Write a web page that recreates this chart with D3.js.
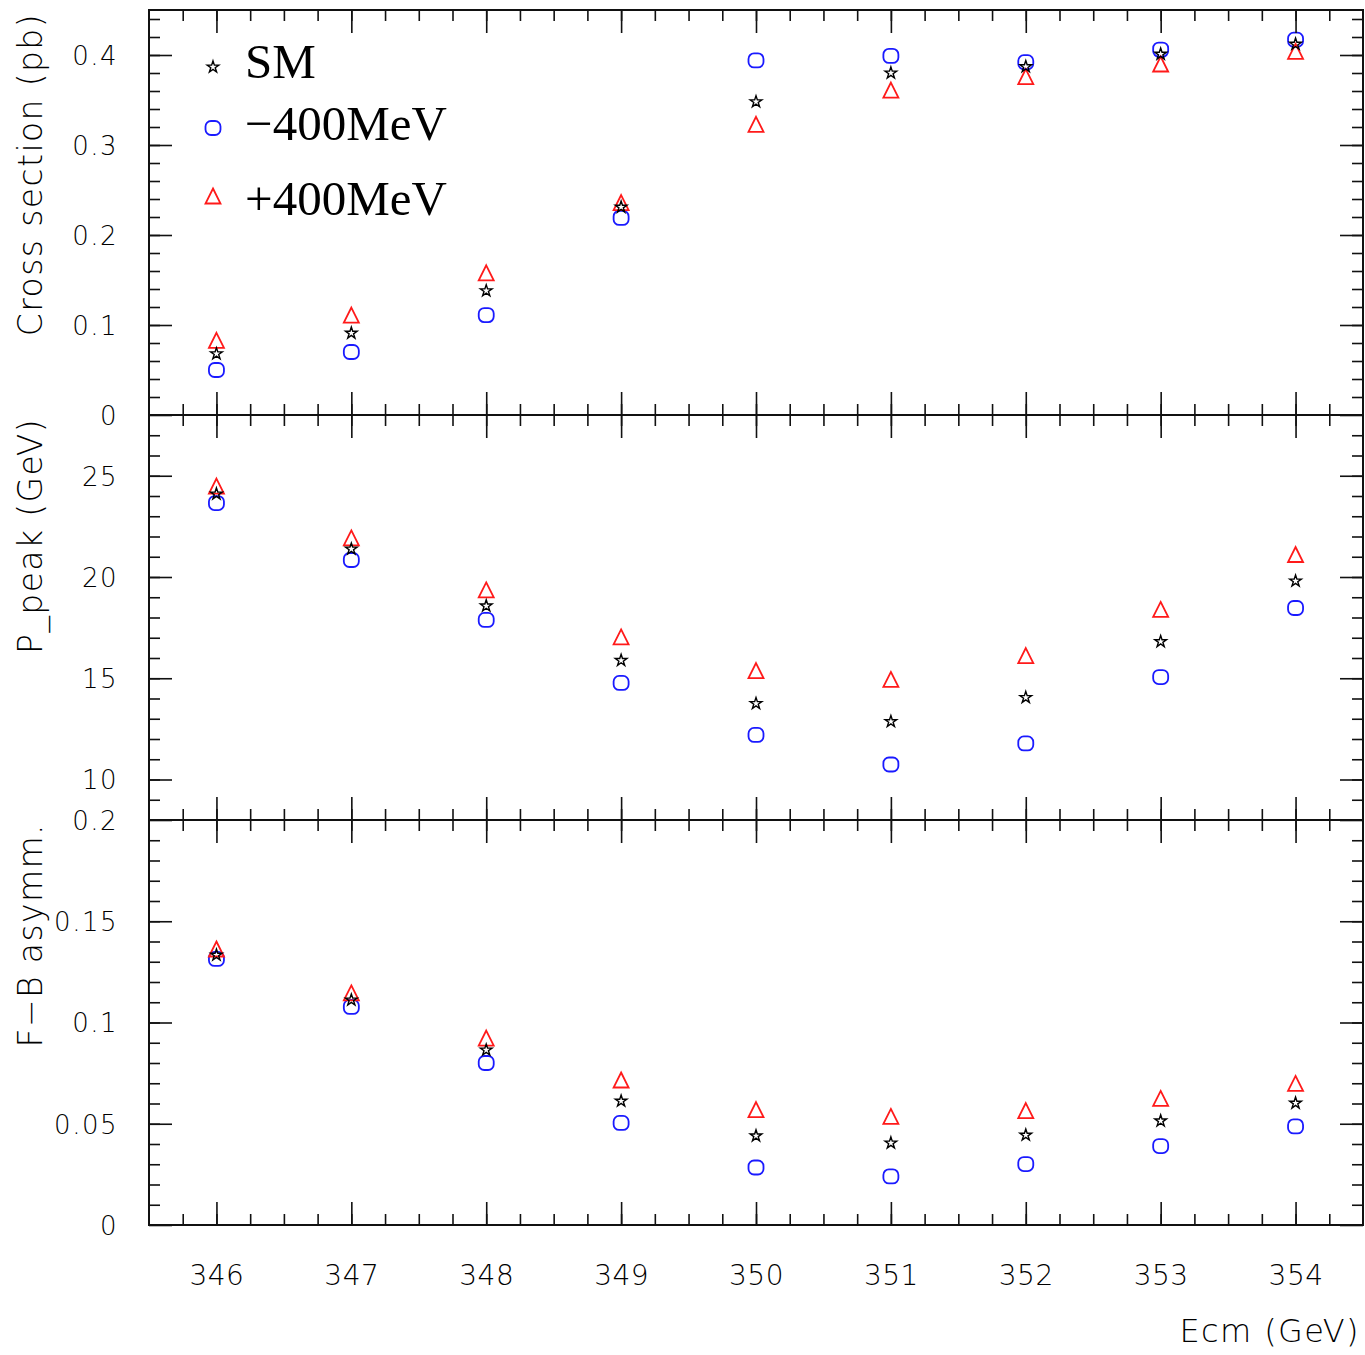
<!DOCTYPE html>
<html>
<head>
<meta charset="utf-8">
<script src="https://cdn.jsdelivr.net/npm/d3@7"></script>
<style>
  body { margin: 0; background: #fff; }
  svg { display: block; }
  .tick text { font-family: "DejaVu Sans", sans-serif; font-weight: 200; fill: #000; letter-spacing: 1.5px; }
  .title { font-family: "DejaVu Sans", sans-serif; font-weight: 200; fill: #000; letter-spacing: 1.4px; }
  .legend text { font-family: "Liberation Serif", "Times New Roman", serif; fill: #000; }
</style>
</head>
<body>
<svg></svg>
<script>
// beam energies (GeV)
const energies = [346, 347, 348, 349, 350, 351, 352, 353, 354];

// cross section (pb)
const xsecSM    = [0.068, 0.091, 0.138, 0.231, 0.348, 0.380, 0.387, 0.401, 0.412];
const xsecMinus = [0.050, 0.070, 0.111, 0.219, 0.394, 0.399, 0.392, 0.406, 0.417];
const xsecPlus  = [0.083, 0.111, 0.158, 0.236, 0.323, 0.361, 0.376, 0.390, 0.404];

// peak momentum (GeV)
const ppeakSM    = [24.10, 21.38, 18.57, 15.88, 13.75, 12.86, 14.05, 16.81, 19.80];
const ppeakMinus = [23.65, 20.84, 17.88, 14.77, 12.20, 10.74, 11.78, 15.06, 18.47];
const ppeakPlus  = [24.49, 21.93, 19.36, 17.04, 15.38, 14.94, 16.12, 18.40, 21.11];

// forward-backward asymmetry
const fbSM    = [0.1333, 0.1111, 0.0864, 0.0612, 0.0440, 0.0405, 0.0444, 0.0514, 0.0602];
const fbMinus = [0.1314, 0.1077, 0.0800, 0.0504, 0.0284, 0.0240, 0.0301, 0.0390, 0.0487];
const fbPlus  = [0.1363, 0.1146, 0.0923, 0.0716, 0.0570, 0.0536, 0.0565, 0.0625, 0.0699];

// tick labels
const xTicks = [346, 347, 348, 349, 350, 351, 352, 353, 354];
const xsecTicks = [0, 0.1, 0.2, 0.3, 0.4];
const ppeakTicks = [10, 15, 20, 25];
const fbTicks = [0, 0.05, 0.1, 0.15, 0.2];

const seriesNames = ['SM', '\u2212400MeV', '+400MeV'];

const width = 1365,
      height = 1355,
      frameL = 149,
      frameR = 1363,
      frameT = 10,
      panelH = 405,
      majorLen = 23,
      minorLen = 11,
      ink = '#111';

const $svg = d3.select('svg')
  .attr('width', width)
  .attr('height', height);

const x = d3.scaleLinear()
  .domain([345.5, 354.5])
  .range([frameL, frameR]);

const xMinor = d3.range(345.75, 354.5, 0.25);

const panels = [
  { title: 'Cross section (pb)', domain: [0, 0.45], ticks: xsecTicks,
    minor: d3.range(0.02, 0.45, 0.02), series: [xsecSM, xsecMinus, xsecPlus] },
  { title: 'P_peak (GeV)', domain: [8, 28], ticks: ppeakTicks,
    minor: d3.range(9, 28, 1), series: [ppeakSM, ppeakMinus, ppeakPlus] },
  { title: 'F\u2212B asymm.', domain: [0, 0.2], ticks: fbTicks,
    minor: d3.range(0.01, 0.2, 0.01), series: [fbSM, fbMinus, fbPlus] }
];

const markers = [
  { name: 'star', color: '#000' },
  { name: 'circle', color: '#1a1aff' },
  { name: 'triangle', color: '#ff1a1a' }
];

function drawMarker(g, type, color) {
  if (type === 'circle') {
    g.append('rect')
      .attr('x', -7.5).attr('y', -7)
      .attr('width', 15).attr('height', 14)
      .attr('rx', 5.5)
      .attr('fill', 'none')
      .attr('stroke', color)
      .attr('stroke-width', 1.8);
  } else if (type === 'triangle') {
    g.append('path')
      .attr('d', 'M0,-7.5L7.5,7.5L-7.5,7.5Z')
      .attr('fill', 'none')
      .attr('stroke', color)
      .attr('stroke-width', 1.8);
  } else {
    g.append('path')
      .attr('d', d3.symbol(d3.symbolStar, 42)())
      .attr('fill', 'none')
      .attr('stroke', color)
      .attr('stroke-width', 1.4);
  }
}

function styleAxis(sel) {
  sel.select('.domain').remove();
  sel.selectAll('.tick line')
    .attr('stroke', ink)
    .attr('stroke-width', 1.6);
}

panels.forEach((p, i) => {
  const y0 = frameT + i * panelH,
        y1 = y0 + panelH;

  const y = d3.scaleLinear()
    .domain(p.domain)
    .range([y1, y0]);

  // y ticks, left side with labels
  $svg.append('g')
    .attr('transform', `translate(${frameL},0)`)
    .call(d3.axisLeft(y).tickValues(p.minor).tickSize(-minorLen).tickFormat(''))
    .call(styleAxis);

  $svg.append('g')
    .attr('transform', `translate(${frameL},0)`)
    .call(d3.axisLeft(y).tickValues(p.ticks).tickSize(-majorLen).tickPadding(31)
      .tickFormat((d) => String(d)))
    .call(styleAxis)
    .selectAll('text')
      .attr('font-size', 26)
      .attr('dy', '0.36em');

  // y ticks, right side
  $svg.append('g')
    .attr('transform', `translate(${frameR},0)`)
    .call(d3.axisRight(y).tickValues(p.minor).tickSize(-minorLen).tickFormat(''))
    .call(styleAxis);

  $svg.append('g')
    .attr('transform', `translate(${frameR},0)`)
    .call(d3.axisRight(y).tickValues(p.ticks).tickSize(-majorLen).tickFormat(''))
    .call(styleAxis);

  // axis title, reading upward, aligned to panel top
  $svg.append('text')
    .attr('class', 'title')
    .attr('transform', `translate(42,${y0 + 3}) rotate(-90)`)
    .attr('text-anchor', 'end')
    .attr('font-size', 33)
    .text(p.title);

  // markers: circles, triangles, then stars on top
  [1, 2, 0].forEach((s) => {
    const m = markers[s];
    const pts = $svg.append('g')
      .selectAll('g')
      .data(energies.map((e, k) => ({ e: e, v: p.series[s][k] })))
      .enter()
      .append('g')
        .attr('transform', (d) => `translate(${x(d.e)},${y(d.v)})`);
    pts.each(function () { drawMarker(d3.select(this), m.name, m.color); });
  });
});

// x ticks: top border (down), separators (both ways), bottom border (up)
const frameB = frameT + 3 * panelH;

function xTickRow(yPos, axisFn, size) {
  $svg.append('g')
    .attr('transform', `translate(0,${yPos})`)
    .call(axisFn(x).tickValues(xMinor).tickSize(size[0]).tickFormat(''))
    .call(styleAxis);
  $svg.append('g')
    .attr('transform', `translate(0,${yPos})`)
    .call(axisFn(x).tickValues(xTicks).tickSize(size[1]).tickFormat(''))
    .call(styleAxis);
}

xTickRow(frameT, d3.axisTop, [-minorLen, -majorLen]);
[frameT + panelH, frameT + 2 * panelH].forEach((yy) => {
  xTickRow(yy, d3.axisTop, [minorLen, majorLen]);
  xTickRow(yy, d3.axisBottom, [minorLen, majorLen]);
});
xTickRow(frameB, d3.axisBottom, [-minorLen, -majorLen]);

// x labels
$svg.append('g')
  .attr('transform', `translate(0,${frameB})`)
  .call(d3.axisBottom(x).tickValues(xTicks).tickSize(0).tickPadding(40)
    .tickFormat((d) => String(d)))
  .call(styleAxis)
  .selectAll('text')
    .attr('font-size', 28)
    .style('letter-spacing', '0.5px');

$svg.append('text')
  .attr('class', 'title')
  .attr('x', 1360)
  .attr('y', 1342)
  .attr('text-anchor', 'end')
  .attr('font-size', 32)
  .text('Ecm (GeV)');

// frame and panel separators
$svg.append('rect')
  .attr('x', frameL)
  .attr('y', frameT)
  .attr('width', frameR - frameL)
  .attr('height', frameB - frameT)
  .attr('fill', 'none')
  .attr('stroke', ink)
  .attr('stroke-width', 2);

[frameT + panelH, frameT + 2 * panelH].forEach((yy) => {
  $svg.append('line')
    .attr('x1', frameL).attr('x2', frameR)
    .attr('y1', yy).attr('y2', yy)
    .attr('stroke', ink)
    .attr('stroke-width', 2);
});

// legend
const legendRows = [
  { s: 0, my: 67, ty: 78 },
  { s: 1, my: 128, ty: 140 },
  { s: 2, my: 196, ty: 215 }
];

const $legend = $svg.append('g').attr('class', 'legend');

legendRows.forEach((r) => {
  const g = $legend.append('g')
    .attr('transform', `translate(213,${r.my})`);
  drawMarker(g, markers[r.s].name, markers[r.s].color);
  $legend.append('text')
    .attr('x', 245)
    .attr('y', r.ty)
    .attr('font-size', 49)
    .text(seriesNames[r.s]);
});
</script>
</body>
</html>
